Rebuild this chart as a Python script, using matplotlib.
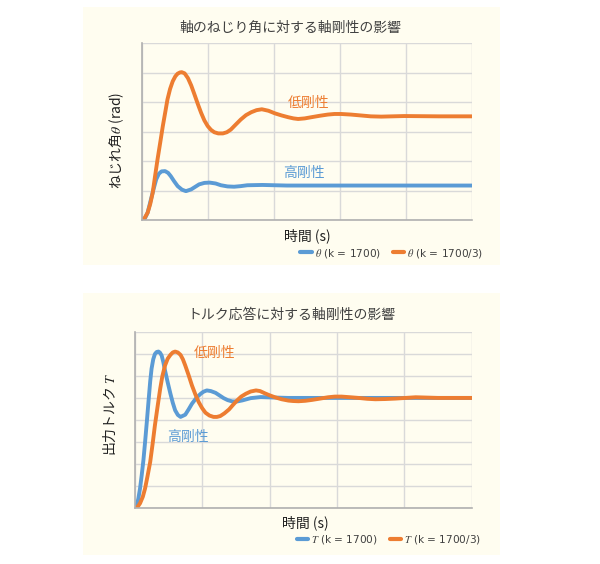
import matplotlib
matplotlib.use("Agg")
import matplotlib.pyplot as plt
from matplotlib.patches import Rectangle
from matplotlib.lines import Line2D

plt.rcParams['font.family'] = ['Noto Sans CJK JP', 'DejaVu Sans']
plt.rcParams['mathtext.fontset'] = 'stix'

# ---- data ----
# top: twist angle
angle_hi_t = [0, 0.05, 0.09, 0.14, 0.18, 0.22, 0.26, 0.30, 0.354, 0.40, 0.44, 0.49, 0.545, 0.61, 0.67,
              0.75, 0.87, 0.95, 1.03, 1.12, 1.2, 1.30, 1.40, 1.5, 1.6, 1.83, 2.2, 3.0, 4.0, 5.0]
angle_hi_v = [0, 0.06, 0.25, 0.70, 1.05, 1.38, 1.57, 1.65, 1.66, 1.60, 1.49, 1.32, 1.15, 1.03, 0.98,
              1.04, 1.21, 1.26, 1.27, 1.24, 1.18, 1.14, 1.13, 1.15, 1.18, 1.19, 1.17, 1.17, 1.17, 1.17]
angle_lo_t = [0, 0.04, 0.09, 0.13, 0.167, 0.20, 0.24, 0.28, 0.32, 0.36, 0.39, 0.43, 0.47, 0.51, 0.545,
              0.58, 0.606, 0.65, 0.70, 0.75, 0.80, 0.85, 0.90, 0.95, 1.0, 1.05, 1.10, 1.16, 1.23, 1.29,
              1.35, 1.42, 1.5, 1.58, 1.66, 1.74, 1.82, 1.92, 2.02, 2.12, 2.22, 2.30, 2.37, 2.47, 2.57,
              2.70, 2.82, 2.92, 3.02, 3.17, 3.32, 3.47, 3.63, 3.80, 3.98, 4.5, 5.0]
angle_lo_v = [0, 0.05, 0.25, 0.55, 0.93, 1.45, 2.06, 2.62, 3.19, 3.70, 4.09, 4.45, 4.71, 4.88, 4.97,
              5.01, 5.02, 4.98, 4.82, 4.57, 4.26, 3.94, 3.64, 3.38, 3.19, 3.06, 2.98, 2.94, 2.94, 2.98,
              3.07, 3.23, 3.41, 3.56, 3.66, 3.73, 3.76, 3.71, 3.62, 3.55, 3.49, 3.45, 3.43, 3.45, 3.49,
              3.54, 3.58, 3.60, 3.60, 3.58, 3.55, 3.52, 3.51, 3.52, 3.53, 3.52, 3.52]

# bottom: output torque
torque_hi_t = [0, 0.03, 0.055, 0.08, 0.104, 0.13, 0.154, 0.18, 0.204, 0.23, 0.25, 0.275, 0.30, 0.325,
               0.353, 0.375, 0.40, 0.425, 0.45, 0.49, 0.53, 0.565, 0.60, 0.64, 0.68, 0.75, 0.80, 0.85,
               0.92, 0.98, 1.02, 1.07, 1.13, 1.2, 1.26, 1.32, 1.38, 1.45, 1.52, 1.6, 1.72, 1.87, 2.05,
               2.28, 3.0, 5.0]
torque_hi_v = [0, 0.12, 0.45, 0.92, 1.50, 2.20, 3.0, 3.92, 4.81, 5.75, 6.32, 6.75, 6.99, 7.08,
               7.10, 7.05, 6.92, 6.62, 6.24, 5.70, 5.19, 4.78, 4.44, 4.23, 4.14, 4.24, 4.48, 4.74,
               5.02, 5.19, 5.28, 5.34, 5.31, 5.23, 5.11, 4.99, 4.90, 4.84, 4.84, 4.89, 4.99, 5.04, 5.02,
               5.0, 5.0, 5.0]
torque_lo_t = [0, 0.04, 0.08, 0.12, 0.154, 0.19, 0.23, 0.265, 0.30, 0.34, 0.378, 0.41, 0.45, 0.49, 0.53,
               0.565, 0.60, 0.64, 0.68, 0.715, 0.75, 0.80, 0.85, 0.90, 0.95, 1.0, 1.05, 1.11, 1.17, 1.22,
               1.27, 1.33, 1.4, 1.46, 1.52, 1.58, 1.65, 1.72, 1.8, 1.86, 1.93, 2.0, 2.08, 2.18, 2.28,
               2.35, 2.43, 2.53, 2.63, 2.75, 2.87, 2.97, 3.07, 3.2, 3.32, 3.45, 3.57, 3.72, 3.87, 4.02,
               4.17, 4.5, 5.0]
torque_lo_v = [0, 0.05, 0.23, 0.52, 0.90, 1.45, 2.10, 2.90, 3.76, 4.62, 5.41, 5.98, 6.47, 6.78, 6.95,
               7.06, 7.10, 7.06, 6.95, 6.75, 6.47, 6.03, 5.56, 5.16, 4.81, 4.54, 4.33, 4.20, 4.14, 4.14,
               4.18, 4.30, 4.48, 4.69, 4.89, 5.06, 5.19, 5.29, 5.34, 5.31, 5.21, 5.12, 5.03, 4.94, 4.88,
               4.86, 4.85, 4.87, 4.91, 4.97, 5.03, 5.06, 5.06, 5.03, 5.0, 4.96, 4.94, 4.95, 4.97, 5.0,
               5.03, 5.0, 5.0]

top_title = "軸のねじり角に対する軸剛性の影響"
bot_title = "トルク応答に対する軸剛性の影響"
xlab = "時間 (s)"
top_ylab = r"ねじれ角$\theta$ (rad)"
bot_ylab = r"出力トルク $T$"
top_legend = [r"$\theta$ (k = 1700)", r"$\theta$ (k = 1700/3)"]
bot_legend = [r"$T$ (k = 1700)", r"$T$ (k = 1700/3)"]
lab_lo = "低剛性"
lab_hi = "高剛性"

BLUE = '#5B9BD5'
ORANGE = '#ED7D31'
BG = '#FFFDF0'
GRID = '#D9D9D9'
TXT = '#404040'

W, H = 600, 564
fig = plt.figure(figsize=(6.0, 5.64), dpi=100)
fig.patch.set_facecolor('white')

def fx(px):
    return px / W

def fy(py):
    return 1 - py / H

# panel backgrounds
fig.patches.append(Rectangle((fx(83), fy(265)), fx(500) - fx(83), fy(7) - fy(265),
                             transform=fig.transFigure, facecolor=BG, edgecolor='none', zorder=-10))
fig.patches.append(Rectangle((fx(83), fy(555)), fx(500) - fx(83), fy(293) - fy(555),
                             transform=fig.transFigure, facecolor=BG, edgecolor='none', zorder=-10))

def style_axes(ax, ymax):
    ax.set_facecolor(BG)
    ax.set_xlim(0, 5)
    ax.set_ylim(0, ymax)
    ax.set_xticks(range(0, 6))
    ax.set_yticks(range(0, ymax + 1))
    ax.tick_params(length=0, labelleft=False, labelbottom=False)
    ax.grid(True, color=GRID, linewidth=1.0)
    ax.set_axisbelow(True)
    for s in ['top', 'right']:
        ax.spines[s].set_visible(False)
    for s in ['left', 'bottom']:
        ax.spines[s].set_color('#B0B0B0')
        ax.spines[s].set_linewidth(1.2)

# top axes
ax1 = fig.add_axes([fx(141.7), fy(220), fx(471.7) - fx(141.7), fy(43.3) - fy(220)])
style_axes(ax1, 6)
ax1.plot(angle_hi_t, angle_hi_v, color=BLUE, lw=2.8, solid_capstyle='round', solid_joinstyle='round')
ax1.plot(angle_lo_t, angle_lo_v, color=ORANGE, lw=2.8, solid_capstyle='round', solid_joinstyle='round')
ax1.text(2.53, 3.97, lab_lo, color=ORANGE, fontsize=10, ha='center', va='center')
ax1.text(2.46, 1.60, lab_hi, color=BLUE, fontsize=10, ha='center', va='center')

# bottom axes
ax2 = fig.add_axes([fx(134.7), fy(508.3), fx(471.7) - fx(134.7), fy(331.7) - fy(508.3)])
style_axes(ax2, 8)
ax2.plot(torque_hi_t, torque_hi_v, color=BLUE, lw=2.8, solid_capstyle='round', solid_joinstyle='round')
ax2.plot(torque_lo_t, torque_lo_v, color=ORANGE, lw=2.8, solid_capstyle='round', solid_joinstyle='round')
ax2.text(1.18, 7.04, lab_lo, color=ORANGE, fontsize=10, ha='center', va='center')
ax2.text(0.79, 3.22, lab_hi, color=BLUE, fontsize=10, ha='center', va='center')

# titles and labels
fig.text(fx(290), fy(28), top_title, fontsize=10, color=TXT, ha='center', va='center')
fig.text(fx(291), fy(315), bot_title, fontsize=10, color=TXT, ha='center', va='center')
fig.text(fx(307), fy(236), xlab, fontsize=10, color='#202020', ha='center', va='center')
fig.text(fx(305), fy(523), xlab, fontsize=10, color='#202020', ha='center', va='center')
fig.text(fx(117), fy(140), top_ylab, fontsize=10, color='#202020', ha='center', va='center', rotation=90)
fig.text(fx(110), fy(414), bot_ylab, fontsize=10, color='#202020', ha='center', va='center', rotation=90)

def make_legend(ax, labels, cx, cy):
    handles = [Line2D([], [], color=BLUE, lw=3.0, solid_capstyle='round'),
               Line2D([], [], color=ORANGE, lw=3.0, solid_capstyle='round')]
    leg = ax.legend(handles, labels, loc='center', bbox_to_anchor=(fx(cx), fy(cy)),
                    bbox_transform=fig.transFigure, ncol=2, frameon=False,
                    handlelength=1.1, handletextpad=0.3, columnspacing=1.1,
                    prop={'family': 'DejaVu Sans', 'size': 7.6})
    for t in leg.get_texts():
        t.set_color(TXT)
    return leg

make_legend(ax1, top_legend, 392, 253)
make_legend(ax2, bot_legend, 389, 540)

fig.savefig('out.png', dpi=100, facecolor='white')
